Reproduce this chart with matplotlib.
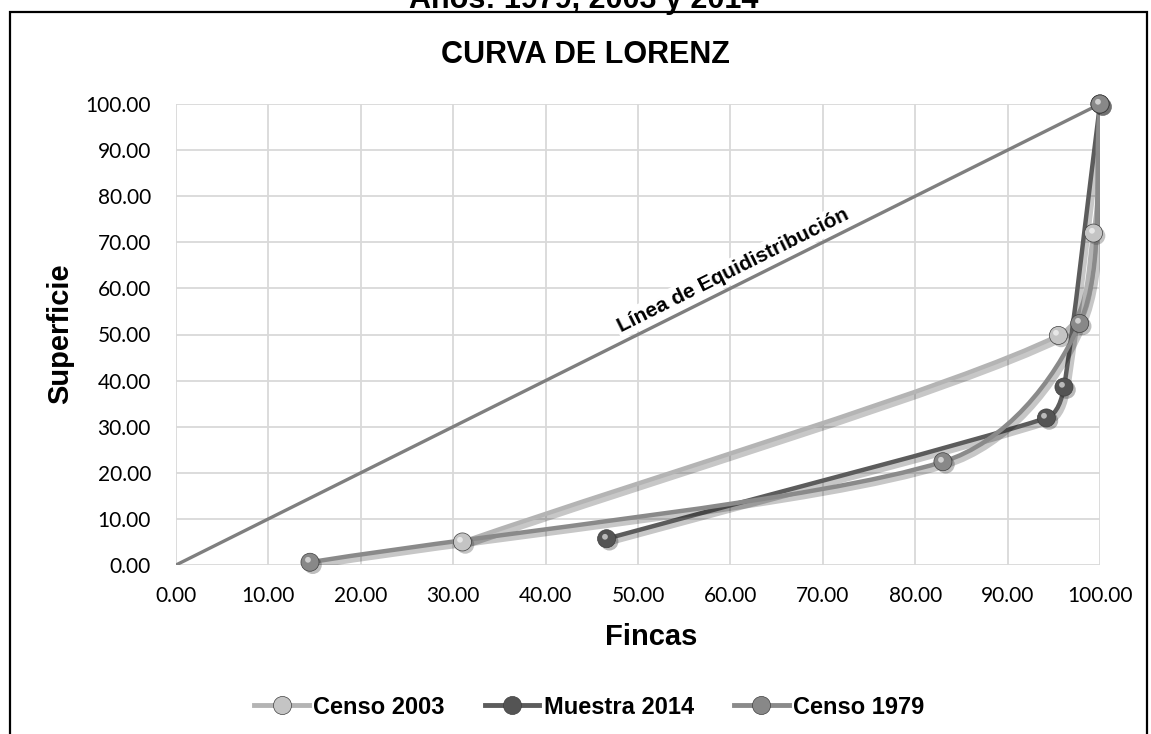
import matplotlib
matplotlib.use("Agg")
import matplotlib.pyplot as plt
import matplotlib.patheffects as pe
from matplotlib.path import Path
from matplotlib.patches import PathPatch, Rectangle
from matplotlib.lines import Line2D
import numpy as np

# data (percent of farms vs percent of area)
censo2003_x = [31.0, 95.5, 99.3, 100.0]
censo2003_y = [5.0, 49.8, 72.0, 100.0]
muestra2014_x = [46.6, 94.2, 96.1, 100.0]
muestra2014_y = [5.7, 31.9, 38.6, 100.0]
censo1979_x = [14.5, 83.0, 97.8, 100.0]
censo1979_y = [0.6, 22.4, 52.4, 100.0]
equi_x = [0.0, 100.0]
equi_y = [0.0, 100.0]

series = [
    ("Censo 2003", censo2003_x, censo2003_y, "#b4b4b4", "#c4c4c4"),
    ("Muestra 2014", muestra2014_x, muestra2014_y, "#5c5c5c", "#545454"),
    ("Censo 1979", censo1979_x, censo1979_y, "#8a8a8a", "#888888"),
]

ticks = np.arange(0, 101, 10)

# pixel size of one data unit, used so the smoothing behaves like on screen
SX, SY = 9.24, 4.61


def capped(t, limit):
    n = np.hypot(*t)
    return t if n <= limit else t * limit / n


def smooth_path(x, y):
    # excel-like smoothed line: catmull-rom bezier, tangents capped on short segments
    p = np.column_stack([np.array(x) * SX, np.array(y) * SY])
    n = len(p)
    verts = [p[0]]
    codes = [Path.MOVETO]
    for i in range(n - 1):
        p1, p2 = p[i], p[i + 1]
        d = np.hypot(*(p2 - p1))
        t1 = (p2 - p[i - 1]) / 6.0 if i > 0 else (p2 - p1) / 3.0
        t2 = (p[i + 2] - p1) / 6.0 if i + 2 < n else (p2 - p1) / 3.0
        t1 = capped(t1, d / 3.0)
        t2 = capped(t2, d / 3.0)
        verts += [p1 + t1, p2 - t2, p2]
        codes += [Path.CURVE4] * 3
    verts = np.array(verts) / [SX, SY]
    return Path(verts, codes)


# little off-centre dot used as the highlight of the "sphere" markers
th = np.linspace(0, 2 * np.pi, 40)
hl_marker = Path(np.column_stack([np.r_[-0.28 + 0.32 * np.cos(th), 1.0, -1.0],
                                  np.r_[0.30 + 0.32 * np.sin(th), 1.0, -1.0]]),
                 [Path.MOVETO] + [Path.LINETO] * 38 + [Path.CLOSEPOLY, Path.MOVETO, Path.MOVETO])

fig = plt.figure(figsize=(11.51, 7.34), dpi=100)
ax = fig.add_axes([176 / 1151, 1 - 565 / 734, 924 / 1151, 461 / 734])

# outer frame of the chart area (cut off right and bottom)
fig.patches.append(Rectangle((10 / 1151, -0.1), 1137 / 1151, 0.1 + 1 - 12 / 734,
                             transform=fig.transFigure, fill=False,
                             edgecolor="black", linewidth=1.6, zorder=0))

ax.set_xlim(0, 100)
ax.set_ylim(0, 100)
ax.set_xticks(ticks)
ax.set_yticks(ticks)
ax.set_xticklabels(["%.2f" % t for t in ticks])
ax.set_yticklabels(["%.2f" % t for t in ticks])
ax.grid(True, color="#d9d9d9", linewidth=1.3)
ax.set_axisbelow(True)
for s in ax.spines.values():
    s.set_visible(False)
ax.tick_params(axis="x", length=0, labelsize=15, pad=15)
ax.tick_params(axis="y", length=0, labelsize=15, pad=18)
for lab in ax.get_xticklabels() + ax.get_yticklabels():
    lab.set_fontfamily("Lato")

shadow = [pe.SimpleLineShadow(offset=(2, -2.5), alpha=0.22, shadow_color="black", linewidth=4.5),
          pe.Normal()]

ax.plot(equi_x, equi_y, color="#7f7f7f", linewidth=2.4, zorder=3, solid_capstyle="butt")

ax.text(60.3, 64.0, "Línea de Equidistribución", rotation=26.5, ha="center", va="center",
        fontsize=15, fontweight="bold", family="Liberation Sans", zorder=4,
        bbox=dict(facecolor="white", edgecolor="none", pad=2))

handles = []
for i, (name, x, y, lc, mc) in enumerate(series):
    patch = PathPatch(smooth_path(x, y), fill=False, edgecolor=lc, linewidth=3.2,
                      zorder=5 + i, capstyle="round", path_effects=shadow)
    ax.add_patch(patch)
    ax.plot(x, y, linestyle="none", marker="o", markersize=13, markerfacecolor=mc,
            markeredgecolor="#3f3f3f", markeredgewidth=0.5, zorder=8 + i, clip_on=False,
            path_effects=[pe.SimplePatchShadow(offset=(2, -2), alpha=0.3), pe.Normal()])
    ax.plot(x, y, linestyle="none", marker=hl_marker, markersize=13, markerfacecolor="white",
            markeredgewidth=0, alpha=0.6, zorder=8.5 + i, clip_on=False)
    handles.append(Line2D([0], [0], color=lc, linewidth=3.5, marker="o", markersize=13,
                          markerfacecolor=mc, markeredgecolor="#3f3f3f", markeredgewidth=0.5))

fig.text(651 / 1151, 1 - 645 / 734, "Fincas", ha="center", va="baseline",
         fontsize=21, fontweight="bold", family="Liberation Sans")
fig.text(60 / 1151, 1 - 334 / 734, "Superficie", ha="center", va="center", rotation=90,
         fontsize=21, fontweight="bold", family="Liberation Sans")

fig.text(585 / 1151, 1 - 63 / 734, "CURVA DE LORENZ", ha="center", va="baseline",
         fontsize=22, fontweight="bold", family="Liberation Sans")
fig.text(584 / 1151, 1 - 8 / 734, "Años: 1979, 2003 y 2014", ha="center", va="baseline",
         fontsize=22, fontweight="bold", family="Liberation Sans")

fig.legend(handles, [s[0] for s in series], loc="center", bbox_to_anchor=(589.5 / 1151, 1 - 707 / 734),
           ncol=3, frameon=False, handlelength=2.3, columnspacing=1.7, handletextpad=0.2,
           prop={"family": "Liberation Sans", "weight": "bold", "size": 17})

fig.savefig("out.png", dpi=100)
